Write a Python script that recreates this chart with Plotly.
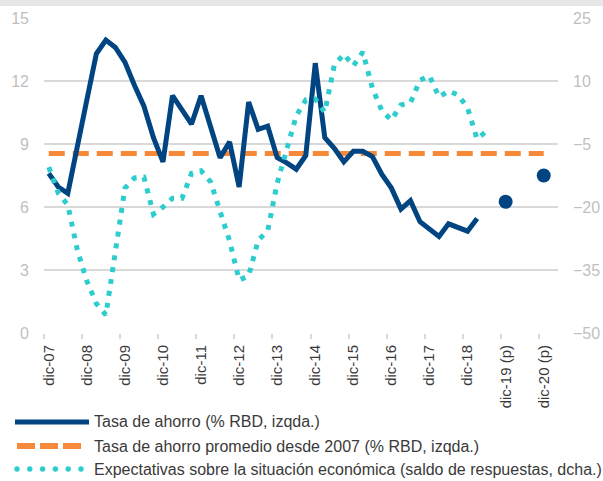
import plotly.graph_objects as go

# ---------------- data ----------------
# quarterly categories from dic-07 to mar-21
month_names = ["mar", "jun", "sep", "dic"]
quarters = ["dic-07"] + [f"{m}-{y % 100:02d}" for y in range(2008, 2022) for m in month_names][:53]

tick_labels = ["dic-07", "dic-08", "dic-09", "dic-10", "dic-11", "dic-12", "dic-13",
               "dic-14", "dic-15", "dic-16", "dic-17", "dic-18", "dic-19 (p)", "dic-20 (p)"]
tick_quarters = ["dic-07", "dic-08", "dic-09", "dic-10", "dic-11", "dic-12", "dic-13",
                 "dic-14", "dic-15", "dic-16", "dic-17", "dic-18", "dic-19", "dic-20"]

# Tasa de ahorro (% RBD, izqda.) from dic-07
savings_rate = [7.6, 6.95, 6.65, 9.0, 11.1, 13.3, 13.95, 13.6, 12.9, 11.8,
                10.8, 9.3, 8.15, 11.3, 10.6, 9.95, 11.3, 9.8, 8.35, 9.1,
                6.95, 11.0, 9.7, 9.85, 8.35, 8.1, 7.8, 8.45, 12.85, 9.3,
                8.8, 8.15, 8.65, 8.65, 8.4, 7.55, 6.9, 5.9, 6.3, 5.3,
                4.95, 4.6, 5.2, 5.05, 4.85, 5.45]

# Forecasts (p)
forecast_quarters = ["dic-19", "dic-20"]
forecast_values = [6.25, 7.5]

# Tasa de ahorro promedio desde 2007
average_rate = 8.55
average_end = "dic-20"

# Expectativas sobre la situación económica (saldo de respuestas, dcha.)
expectations = [-10.5, -16.7, -19.5, -30.2, -37.6, -43.0, -45.7, -30.2, -15.5, -13.1,
                -12.9, -21.7, -20.0, -17.9, -17.9, -12.0, -11.4, -14.0, -20.7, -28.1,
                -37.4, -36.4, -27.9, -25.7, -14.3, -6.7, 1.7, 5.5, 5.7, 2.6,
                13.8, 16.4, 13.6, 16.9, 8.3, 2.9, 0.7, 4.3, 4.8, 10.2,
                11.2, 6.2, 7.6, 6.7, 3.6, -3.8, -1.9]

left_ticks = [0, 3, 6, 9, 12, 15]
right_ticks = [-50, -35, -20, -5, 10, 25]

legend_names = ["Tasa de ahorro (% RBD, izqda.)",
                "Tasa de ahorro promedio desde 2007 (% RBD, izqda.)",
                "Expectativas sobre la situación económica (saldo de respuestas, dcha.)"]

# ---------------- styles ----------------
BLUE = "#004481"
ORANGE = "#F7893B"
CYAN = "#2DCCCD"
GRID = "#D9D9D9"
LABEL_GRAY = "#BFBFBF"
TEXT = "#3A3A3A"
FONT = "Liberation Sans, Arial, sans-serif"

qidx = {q: i for i, q in enumerate(quarters)}
x_all = list(range(len(quarters)))

fig = go.Figure()

# average line
end_i = qidx[average_end]
fig.add_trace(go.Scatter(
    x=x_all[:end_i + 1], y=[average_rate] * (end_i + 1), mode="lines",
    line=dict(color=ORANGE, width=5, dash="16px,8px"),
    showlegend=False, hoverinfo="skip"))

# expectations (right axis)
fig.add_trace(go.Scatter(
    x=x_all[:len(expectations)], y=expectations, mode="lines", yaxis="y2",
    line=dict(color=CYAN, width=5, dash="5px,7px"),
    showlegend=False))

# savings rate
fig.add_trace(go.Scatter(
    x=x_all[:len(savings_rate)], y=savings_rate, mode="lines",
    line=dict(color=BLUE, width=5),
    showlegend=False))

# forecasts
fig.add_trace(go.Scatter(
    x=[qidx[q] for q in forecast_quarters], y=forecast_values, mode="markers",
    marker=dict(color=BLUE, size=14),
    showlegend=False))

n = len(quarters)
fig.update_layout(
    width=603, height=481,
    margin=dict(l=44, r=45, t=18, b=148),
    paper_bgcolor="white", plot_bgcolor="white",
    font=dict(family=FONT, color=TEXT),
    xaxis=dict(
        range=[-0.5, n - 0.5],
        tickmode="array",
        tickvals=[qidx[q] for q in tick_quarters],
        ticktext=tick_labels,
        tickangle=-90,
        ticks="",
        ticklabelstandoff=8,
        tickfont=dict(size=15, color=TEXT, family=FONT),
        showgrid=False, zeroline=False, showline=False,
        automargin=False,
        minor=dict(tickmode="array",
                   tickvals=[qidx[q] - 0.5 for q in tick_quarters],
                   ticks="outside", ticklen=5, tickwidth=1.5,
                   tickcolor=GRID, showgrid=False),
    ),
    yaxis=dict(
        range=[0, 15], tickmode="array", tickvals=left_ticks,
        showgrid=True, gridcolor=GRID, gridwidth=1.5,
        zeroline=False, showline=False, ticks="",
        ticklabelstandoff=14,
        tickfont=dict(size=16, color=LABEL_GRAY, family=FONT),
        automargin=False,
    ),
    yaxis2=dict(
        range=[-50, 25], tickmode="array", tickvals=right_ticks,
        overlaying="y", side="right",
        showgrid=False, zeroline=False, showline=False, ticks="",
        ticklabelstandoff=14,
        tickfont=dict(size=16, color=LABEL_GRAY, family=FONT),
        automargin=False,
    ),
)

# ---- decorations: top band and custom legend ----
PW, PH, L, T = 514.0, 315.0, 44.0, 18.0


def px(xp):
    return (xp - L) / PW


def py(yp):
    return (T + PH - yp) / PH


shapes = [dict(type="rect", xref="paper", yref="paper",
               x0=px(0), x1=px(603), y0=py(6), y1=py(-1),
               fillcolor="#E6E6E6", line=dict(width=0), layer="above")]

rows_y = [422, 446, 469]
shapes.append(dict(type="line", xref="paper", yref="paper",
                   x0=px(15), x1=px(89), y0=py(rows_y[0]), y1=py(rows_y[0]),
                   line=dict(color=BLUE, width=5)))
shapes.append(dict(type="line", xref="paper", yref="paper",
                   x0=px(17), x1=px(81), y0=py(rows_y[1]), y1=py(rows_y[1]),
                   line=dict(color=ORANGE, width=6, dash="18px,5px")))
for k in range(6):
    cx = 17 + 12.8 * k
    shapes.append(dict(type="circle", xref="paper", yref="paper",
                       x0=px(cx - 2.7), x1=px(cx + 2.7),
                       y0=py(rows_y[2] + 2.7), y1=py(rows_y[2] - 2.7),
                       fillcolor=CYAN, line=dict(width=0)))

annotations = []
for name, ry in zip(legend_names, rows_y):
    annotations.append(dict(text=name, xref="paper", yref="paper",
                            x=px(92), y=py(ry), xanchor="left", yanchor="middle",
                            showarrow=False,
                            font=dict(size=16, color=TEXT, family=FONT)))

fig.update_layout(shapes=shapes, annotations=annotations)

# remove the default page margin so the figure sits at the window origin
fig.write_html("out.html",
               config={"displayModeBar": False},
               post_script="document.body.style.margin='0';document.body.style.overflow='hidden';")
